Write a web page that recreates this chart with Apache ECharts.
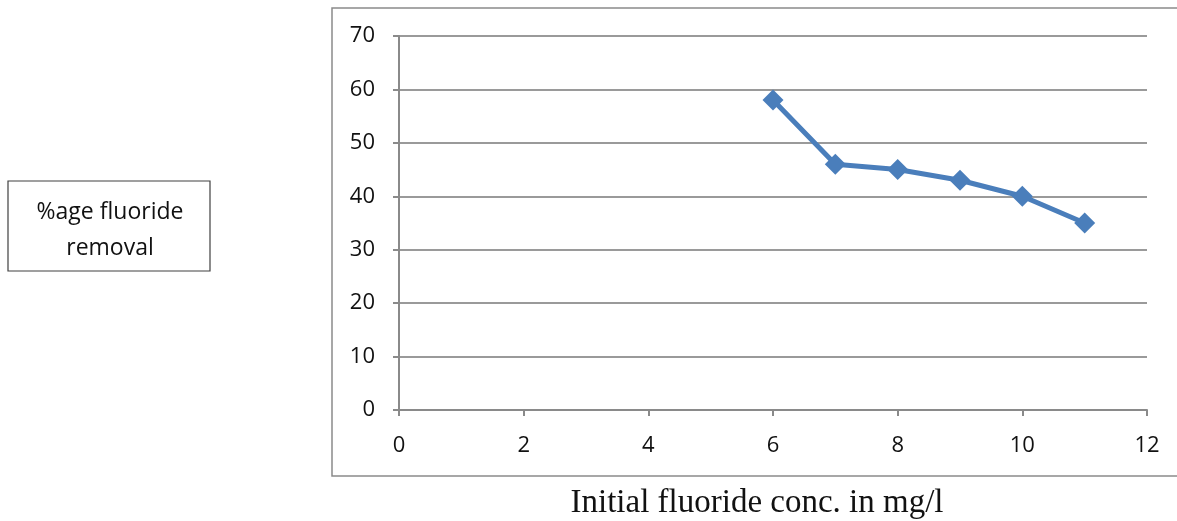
<!DOCTYPE html>
<html>
<head>
<meta charset="utf-8">
<script src="https://cdn.jsdelivr.net/npm/echarts@6/dist/echarts.min.js"></script>
<style>
  html, body { margin: 0; padding: 0; background: #ffffff; }
  #chart { width: 1177px; height: 521px; }
</style>
</head>
<body>
<div id="chart"></div>
<script>
// Initial fluoride concentration (mg/l) and percentage removal
const concentration = [6, 7, 8, 9, 10, 11];
const removal = [58, 46, 45, 43, 40, 35];
const xTicks = [0, 2, 4, 6, 8, 10, 12];
const yTicks = [0, 10, 20, 30, 40, 50, 60, 70];

const yLabel = '%age fluoride\nremoval';
const xLabel = 'Initial fluoride conc. in mg/l';

const points = concentration.map((c, i) => [c, removal[i]]);

const chart = echarts.init(document.getElementById('chart'));
const tickFont = { fontFamily: '"Open Sans", "Liberation Sans", sans-serif', fontSize: 22, color: '#111111' };

chart.setOption({
  animation: false,
  grid: { left: 399, right: 30, top: 36, bottom: 111 },
  graphic: [
    {
      type: 'rect',
      shape: { x: 332, y: 8, width: 860, height: 468 },
      style: { fill: 'none', stroke: '#8a8a8a', lineWidth: 1.5 },
      z: -1
    },
    {
      type: 'rect',
      shape: { x: 8, y: 181, width: 202, height: 90 },
      style: { fill: '#ffffff', stroke: '#404040', lineWidth: 1.2 }
    },
    {
      type: 'text',
      x: 110, y: 230,
      style: {
        text: yLabel,
        fontFamily: '"Open Sans", "Liberation Sans", sans-serif',
        fontSize: 23, lineHeight: 36,
        fill: '#111111', align: 'center', verticalAlign: 'middle'
      }
    },
    {
      type: 'text',
      x: 757, y: 503,
      style: {
        text: xLabel,
        fontFamily: '"Liberation Serif", "Times New Roman", serif',
        fontSize: 33,
        fill: '#111111', align: 'center', verticalAlign: 'middle'
      }
    }
  ],
  xAxis: {
    type: 'value',
    min: xTicks[0], max: xTicks[xTicks.length - 1], interval: 2,
    axisLine: { show: true, onZero: false, lineStyle: { color: '#8a8a8a', width: 2 } },
    axisTick: { show: true, length: 6, lineStyle: { color: '#8a8a8a', width: 2 } },
    axisLabel: Object.assign({ margin: 25 }, tickFont),
    splitLine: { show: false }
  },
  yAxis: {
    type: 'value',
    min: yTicks[0], max: yTicks[yTicks.length - 1], interval: 10,
    axisLine: { show: true, lineStyle: { color: '#8a8a8a', width: 2 } },
    axisTick: { show: true, length: 6, lineStyle: { color: '#8a8a8a', width: 2 } },
    axisLabel: Object.assign({ margin: 24 }, tickFont),
    splitLine: { show: true, lineStyle: { color: '#9a9a9a', width: 2 } }
  },
  series: [{
    type: 'line',
    data: points,
    symbol: 'diamond',
    symbolSize: 21,
    lineStyle: { color: '#4a7ebb', width: 5 },
    itemStyle: { color: '#4a7ebb' }
  }]
});
</script>
</body>
</html>
